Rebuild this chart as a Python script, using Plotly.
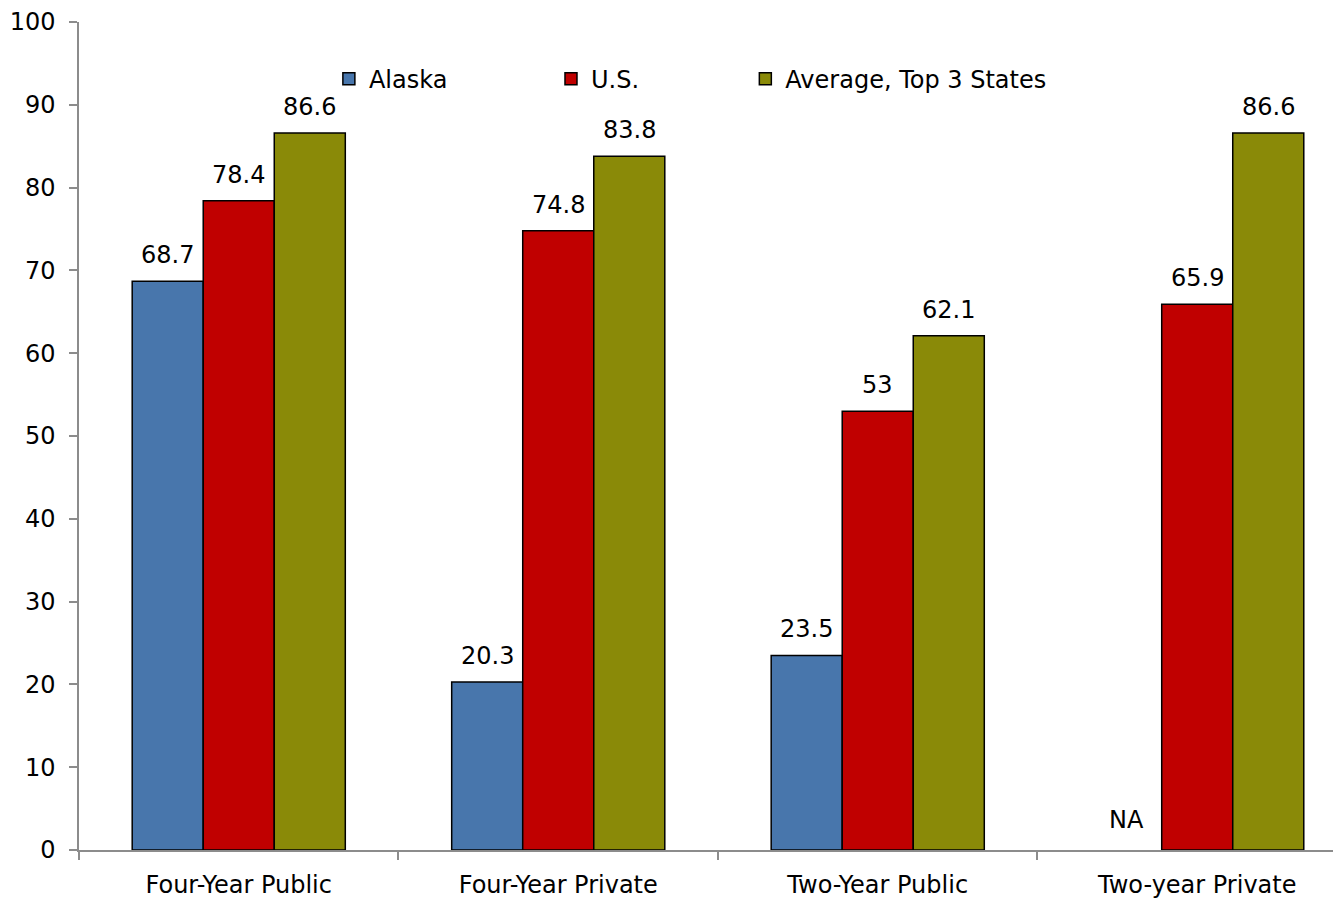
import plotly.graph_objects as go

categories = ["Four-Year Public", "Four-Year Private", "Two-Year Public", "Two-year Private"]
alaska = [68.7, 20.3, 23.5, None]
us = [78.4, 74.8, 53, 65.9]
top3 = [86.6, 83.8, 62.1, 86.6]

series = [
    ("Alaska", alaska, "#4876AC", "legend"),
    ("U.S.", us, "#C00000", "legend2"),
    ("Average, Top 3 States", top3, "#8A8A08", "legend3"),
]

FONT = "DejaVu Sans"
FS = 24

fig = go.Figure()
for name, vals, color, leg in series:
    fig.add_trace(go.Bar(
        x=categories, y=vals, name=name, legend=leg, showlegend=True,
        marker=dict(color=color, line=dict(color="black", width=1.5)),
    ))

# value labels above bars
shifts = [-71, 0, 71]
for (name, vals, color, leg), dx in zip(series, shifts):
    for cat, v in zip(categories, vals):
        if v is None:
            fig.add_annotation(x=cat, y=0, text="NA", showarrow=False,
                               xshift=dx, yshift=30, yanchor="middle",
                               font=dict(family=FONT, size=FS, color="black"))
        else:
            fig.add_annotation(x=cat, y=v, text=f"{v:g}", showarrow=False,
                               xshift=dx, yshift=26, yanchor="middle",
                               font=dict(family=FONT, size=FS, color="black"))

leg_common = dict(orientation="h", yanchor="middle", xanchor="left",
                  bgcolor="rgba(0,0,0,0)", font=dict(family=FONT, size=FS, color="black"),
                  itemwidth=30)
fig.update_layout(
    width=1341, height=899,
    margin=dict(l=71, r=8, t=14, b=57),
    plot_bgcolor="white", paper_bgcolor="white",
    barmode="group", bargap=0.333, bargroupgap=0,
    showlegend=True,
    font=dict(family=FONT, size=FS, color="black"),
    legend=dict(x=0.198, y=0.931, **leg_common),
    legend2=dict(x=0.374, y=0.931, **leg_common),
    legend3=dict(x=0.528, y=0.931, **leg_common),
    xaxis=dict(range=[-0.5, 3.45], showline=True, linecolor="#8C8C8C", linewidth=1.5,
               ticks="outside", tickson="boundaries", ticklen=8, tickcolor="#8C8C8C",
               tickwidth=1.5, showgrid=False, ticklabelstandoff=12, automargin=False,
               tickfont=dict(family=FONT, size=FS, color="black")),
    yaxis=dict(range=[0, 100], dtick=10, showline=True, linecolor="#8C8C8C", linewidth=1.5,
               ticks="outside", ticklen=8, tickcolor="#8C8C8C", tickwidth=1.5,
               showgrid=False, zeroline=False, ticklabelstandoff=9,
               ticklabeloverflow="allow", automargin=False,
               tickfont=dict(family=FONT, size=FS, color="black")),
)

fig.write_html("out.html")
